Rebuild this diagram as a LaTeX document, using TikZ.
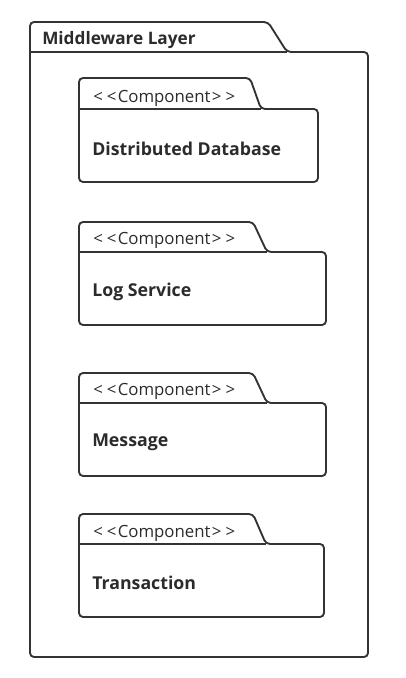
\documentclass[tikz,border=0pt]{standalone}
\usepackage{fontspec}
\setmainfont{Open Sans}
\definecolor{linegray}{HTML}{333333}
\definecolor{textgray}{HTML}{2B2B2B}
\tikzset{
  folder/.style={draw=linegray, line width=1.4pt, rounded corners=3pt, line join=round},
  pkgtitle/.style={anchor=west, inner sep=0pt, text=textgray, font=\fontsize{12.9pt}{14pt}\selectfont\bfseries},
  stereo/.style={anchor=west, inner sep=0pt, text=textgray, font=\fontsize{12.6pt}{14pt}\selectfont},
  compname/.style={anchor=west, inner sep=0pt, text=textgray, font=\fontsize{13.3pt}{15pt}\selectfont\bfseries}
}
% folder shape: left, tab top, tab right, slant end, body top, right, bottom
\newcommand{\pkgfolder}[7]{%
  \draw[folder] (#1,#7) -- (#1,#2) -- (#3,#2) -- (#4,#5) -- (#6,#5) -- (#6,#7) -- cycle;
  \draw[folder] (#1,#5) -- (#4,#5);
}
\newcommand{\stereotext}{{<}\hspace{3pt}{<}\hspace{1pt}Component\hspace{1pt}{>}\hspace{3pt}{>}}
\begin{document}
\begin{tikzpicture}[x=0.75pt, y=-0.75pt]
  \useasboundingbox (0,0) rectangle (405,678);

  % outer package
  \pkgfolder{30}{22}{268}{287}{52}{368}{657}
  \node[pkgtitle] (layer) at (42,40) {Middleware Layer};

  % components
  \pkgfolder{79}{78}{250}{261}{109}{318}{182}
  \node[stereo] (dbst) at (93,98) {\stereotext};
  \node[compname] (db) at (92,149) {Distributed Database};

  \pkgfolder{79}{222}{253}{267}{252}{326}{325}
  \node[stereo] (logst) at (93,240) {\stereotext};
  \node[compname] (log) at (92,292) {Log Service};

  \pkgfolder{79}{373}{253}{267}{403}{326}{476}
  \node[stereo] (msgst) at (93,391) {\stereotext};
  \node[compname] (msg) at (92,442) {Message};

  \pkgfolder{79}{514}{253}{266}{544}{324}{617}
  \node[stereo] (txst) at (93,533) {\stereotext};
  \node[compname] (tx) at (92,583) {Transaction};
\end{tikzpicture}
\end{document}
